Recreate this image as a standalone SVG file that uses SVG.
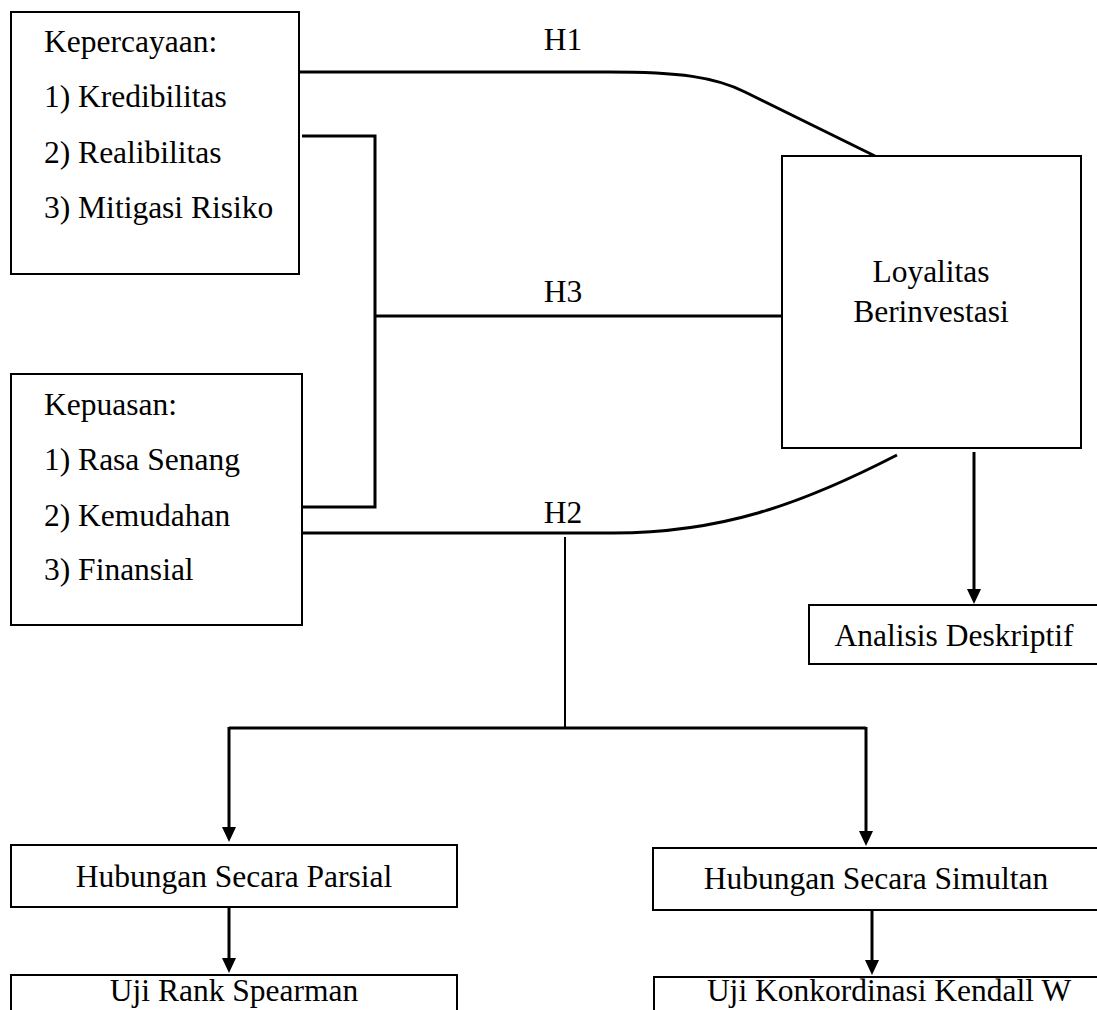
<svg xmlns="http://www.w3.org/2000/svg" width="1097" height="1010" viewBox="0 0 1097 1010">
<style>
.box{fill:#fff;stroke:#000;stroke-width:2}
.t{font-family:"Liberation Serif","Times New Roman",serif;font-size:31.5px;fill:#000}
.c{text-anchor:middle}
.ln{fill:none;stroke:#000;stroke-width:3}
.thin{fill:none;stroke:#000;stroke-width:2}
</style>
<defs>
<marker id="ah" markerWidth="16" markerHeight="14" refX="2" refY="7" orient="auto" markerUnits="userSpaceOnUse">
<path d="M0,0 L15,7 L0,14 z" fill="#000"/>
</marker>
</defs>
<rect width="1097" height="1010" fill="#fff"/>
<g id="connectors">
<path class="ln" d="M300,72 H608 C680,72 715,77 745,92 L875,156"/>
<path class="ln" d="M302,136 H375 V507 H302"/>
<path class="ln" d="M375,316 H782"/>
<path class="ln" d="M302,533 H613 C720,533 800,505 897,455"/>
<path class="thin" d="M565,537 V728"/>
<path class="ln" d="M229,728 H866"/>
<path class="ln" d="M229,727 V829" marker-end="url(#ah)"/>
<path class="ln" d="M866,727 V833" marker-end="url(#ah)"/>
<path class="ln" d="M229,907 V960" marker-end="url(#ah)"/>
<path class="ln" d="M872,910 V962" marker-end="url(#ah)"/>
<path class="ln" d="M974,452 V591" marker-end="url(#ah)"/>
</g>
<g id="kepercayaan">
<rect class="box" x="11" y="12" width="288" height="262"/>
<text class="t" x="44" y="52">Kepercayaan:</text>
<text class="t" x="44" y="107">1) Kredibilitas</text>
<text class="t" x="44" y="163">2) Realibilitas</text>
<text class="t" x="44" y="218">3) Mitigasi Risiko</text>
</g>
<g id="kepuasan">
<rect class="box" x="11" y="374" width="291" height="251"/>
<text class="t" x="44" y="415">Kepuasan:</text>
<text class="t" x="44" y="470">1) Rasa Senang</text>
<text class="t" x="44" y="526">2) Kemudahan</text>
<text class="t" x="44" y="580">3) Finansial</text>
</g>
<g id="loyalitas">
<rect class="box" x="782" y="156" width="299" height="292"/>
<text class="t c" x="931" y="282">Loyalitas</text>
<text class="t c" x="931" y="322">Berinvestasi</text>
</g>
<g id="labels">
<text class="t c" x="563" y="50">H1</text>
<text class="t c" x="563" y="302">H3</text>
<text class="t c" x="563" y="523">H2</text>
</g>
<g id="analisis">
<rect class="box" x="809" y="605" width="290" height="59"/>
<text class="t c" x="954" y="646">Analisis Deskriptif</text>
</g>
<g id="parsial">
<rect class="box" x="11" y="845" width="446" height="62"/>
<text class="t c" x="234" y="887">Hubungan Secara Parsial</text>
</g>
<g id="spearman">
<rect class="box" x="11" y="975" width="446" height="60"/>
<text class="t c" x="234" y="1001">Uji Rank Spearman</text>
</g>
<g id="simultan">
<rect class="box" x="653" y="848" width="446" height="62"/>
<text class="t c" x="876" y="889">Hubungan Secara Simultan</text>
</g>
<g id="kendall">
<rect class="box" x="654" y="977" width="446" height="60"/>
<text class="t c" x="889" y="1001">Uji Konkordinasi Kendall W</text>
</g>
</svg>
